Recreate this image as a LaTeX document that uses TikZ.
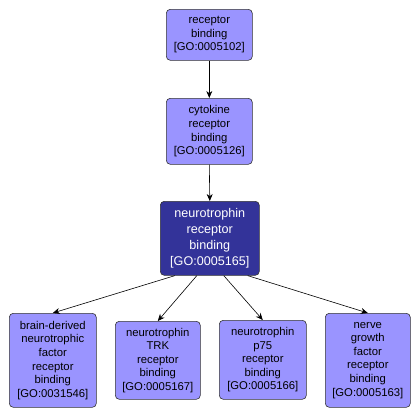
\documentclass[tikz,border=0pt]{standalone}
\usepackage{fontspec}
\setmainfont{Liberation Sans}
\usetikzlibrary{calc,arrows.meta}
\definecolor{lightgo}{HTML}{9A94FF}
\definecolor{darkgo}{HTML}{333399}
\tikzset{
  gobox/.style={draw=black!80, line width=0.6pt, fill=lightgo, rounded corners=4pt, align=center,
    font=\fontsize{11.3}{13.6}\selectfont, inner sep=0pt, anchor=north west},
  godark/.style={gobox, fill=darkgo, text=white, font=\fontsize{12.6}{16}\selectfont},
  goarrow/.style={-{Stealth[length=7pt,width=6pt]}, line width=0.6pt, black}
}
\begin{document}
\begin{tikzpicture}[x=1pt,y=-1pt]
\useasboundingbox (0,0) rectangle (420,416);
\node[gobox, minimum width=86pt, minimum height=51pt] (rb) at (166,9) {receptor\\binding\\{[}GO:0005102{]}};
\node[gobox, minimum width=86pt, minimum height=66pt] (cy) at (166,98) {cytokine\\receptor\\binding\\{[}GO:0005126{]}};
\node[godark, minimum width=99pt, minimum height=74pt] (nt) at (160,201) {neurotrophin\\receptor\\binding\\{[}GO:0005165{]}};
\node[gobox, minimum width=87pt, minimum height=94pt] (bd) at (9,313) {brain-derived\\neurotrophic\\factor\\receptor\\binding\\{[}GO:0031546{]}};
\node[gobox, minimum width=85pt, minimum height=78pt] (trk) at (115,321) {neurotrophin\\TRK\\receptor\\binding\\{[}GO:0005167{]}};
\node[gobox, minimum width=87pt, minimum height=79pt] (p75) at (219,320) {neurotrophin\\p75\\receptor\\binding\\{[}GO:0005166{]}};
\node[gobox, minimum width=85pt, minimum height=94pt] (ngf) at (325,313) {nerve\\growth\\factor\\receptor\\binding\\{[}GO:0005163{]}};
\draw[goarrow] (rb.south) -- (cy.north);
\draw[goarrow] (cy.south) -- (nt.north);
\draw[goarrow] ($(nt.south west)!0.15!(nt.south east)$) -- (bd.north);
\draw[goarrow] ($(nt.south west)!0.37!(nt.south east)$) -- (trk.north);
\draw[goarrow] ($(nt.south west)!0.64!(nt.south east)$) -- (p75.north);
\draw[goarrow] ($(nt.south west)!0.88!(nt.south east)$) -- (ngf.north);
\end{tikzpicture}
\end{document}
